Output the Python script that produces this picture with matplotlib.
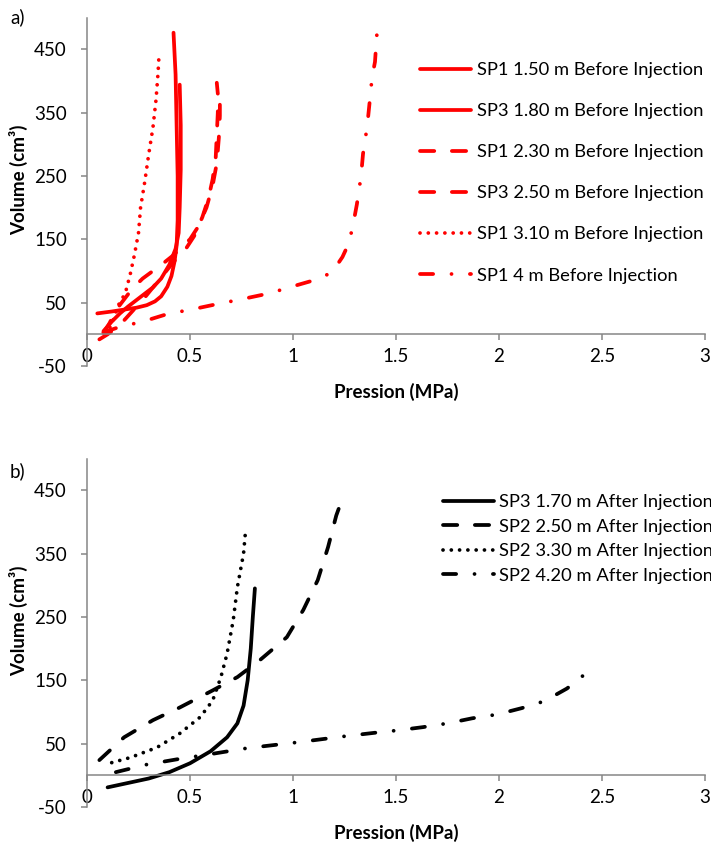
import matplotlib
matplotlib.use('Agg')
import matplotlib.pyplot as plt

plt.rcParams['font.family'] = ['Lato', 'DejaVu Sans']
plt.rcParams['axes.unicode_minus'] = False

# a) before injection -- pressure (MPa) / volume (cm3)
sp1_150_p = [0.05, 0.12, 0.18, 0.24, 0.29, 0.33, 0.36, 0.39, 0.41, 0.425, 0.435, 0.44, 0.44, 0.435, 0.43, 0.42]
sp1_150_v = [33, 36, 39, 42, 46, 52, 60, 75, 92, 115, 140, 180, 250, 330, 410, 476]
sp3_180_p = [0.08, 0.12, 0.16, 0.20, 0.24, 0.28, 0.32, 0.36, 0.40, 0.43, 0.445, 0.45, 0.455, 0.455, 0.45]
sp3_180_v = [5, 20, 33, 44, 54, 64, 74, 88, 110, 135, 160, 200, 260, 330, 394]
sp1_230_p = [0.06, 0.10, 0.14, 0.18, 0.23, 0.28, 0.33, 0.38, 0.43, 0.48, 0.52, 0.56, 0.59, 0.61, 0.625, 0.63, 0.635, 0.635, 0.63]
sp1_230_v = [-8, 0, 10, 22, 40, 58, 78, 98, 118, 135, 155, 185, 215, 245, 280, 315, 350, 380, 397]
sp3_250_p = [0.08, 0.11, 0.14, 0.18, 0.22, 0.27, 0.32, 0.37, 0.42, 0.46, 0.50, 0.54, 0.58, 0.61, 0.63, 0.64, 0.645, 0.645]
sp3_250_v = [2, 18, 38, 55, 72, 88, 100, 112, 125, 138, 150, 170, 200, 235, 270, 310, 345, 375]
sp1_310_p = [0.09, 0.11, 0.13, 0.15, 0.17, 0.19, 0.21, 0.23, 0.25, 0.26, 0.28, 0.30, 0.32, 0.335, 0.345, 0.35]
sp1_310_v = [0, 10, 25, 45, 55, 70, 95, 125, 160, 200, 240, 285, 326, 370, 413, 443]
sp1_400_p = [0.08, 0.17, 0.26, 0.40, 0.49, 0.65, 0.73, 0.89, 0.97, 1.12, 1.19, 1.24, 1.27, 1.29, 1.31, 1.33,
             1.34, 1.36, 1.37, 1.384, 1.398, 1.41]
sp1_400_v = [3, 13, 19, 33, 38, 49, 54, 65, 73, 87, 98, 122, 143, 170, 205, 249, 285, 328, 360, 406, 430, 487]

# b) after injection
sp3_170_p = [0.10, 0.20, 0.30, 0.40, 0.50, 0.60, 0.68, 0.73, 0.76, 0.78, 0.795, 0.805, 0.815]
sp3_170_v = [-19, -12, -5, 5, 19, 38, 60, 82, 110, 150, 200, 250, 295]
sp2_250_p = [0.06, 0.18, 0.32, 0.45, 0.61, 0.73, 0.84, 0.97, 1.05, 1.12, 1.17, 1.21, 1.23]
sp2_250_v = [24, 60, 87, 107, 134, 155, 182, 218, 261, 308, 360, 410, 428]
sp2_330_p = [0.12, 0.21, 0.34, 0.45, 0.55, 0.61, 0.65, 0.68, 0.71, 0.73, 0.76, 0.77]
sp2_330_v = [20, 28, 44, 66, 92, 118, 155, 192, 245, 297, 350, 387]
sp2_420_p = [0.14, 0.29, 0.45, 0.61, 0.78, 1.02, 1.26, 1.42, 1.51, 1.63, 1.75, 1.87, 1.99, 2.11, 2.22, 2.33, 2.43]
sp2_420_v = [5, 17, 26, 34, 43, 52, 62, 68, 71, 76, 82, 90, 96, 106, 117, 137, 163]

x_ticks = [0, 0.5, 1, 1.5, 2, 2.5, 3]
x_tick_labels = ['0', '0.5', '1', '1.5', '2', '2.5', '3']
y_ticks = [-50, 50, 150, 250, 350, 450]

LW = 2.7
SOLID = '-'
DASH = (0, (3.8, 4.7))
DOT = (0, (0.01, 2.2))
DASHDOT = (0, (3.5, 4.9, 0.01, 4.9))
FS = 13.5
LEG_FS = 13.2
AXIS_GREY = '#868686'


def style_axes(ax):
    ax.set_xlim(0, 3)
    ax.set_ylim(-50, 500)
    ax.spines['top'].set_visible(False)
    ax.spines['right'].set_visible(False)
    ax.spines['bottom'].set_position(('data', 0))
    for s in ('left', 'bottom'):
        ax.spines[s].set_color(AXIS_GREY)
        ax.spines[s].set_linewidth(1.1)
    ax.set_xticks(x_ticks)
    ax.set_xticklabels(x_tick_labels)
    ax.set_yticks(y_ticks)
    ax.tick_params(axis='both', colors=AXIS_GREY, labelcolor='black', labelsize=FS,
                   length=4.5, width=1.1, direction='out')
    ax.tick_params(axis='x', pad=5)
    ax.tick_params(axis='y', pad=10)
    ax.set_xlabel('Pression (MPa)', fontsize=FS, fontweight='bold')
    ax.set_ylabel('Volume (cm³)', fontsize=FS, fontweight='bold')
    ax.xaxis.set_label_coords(0.5, -0.049)
    ax.yaxis.set_label_coords(-0.095, 0.535)
    ax.patch.set_visible(False)


def draw(ax, p, v, color, ls, label):
    ax.plot(p, v, color=color, lw=LW, linestyle=ls, label=label,
            solid_capstyle='round', dash_capstyle='round', solid_joinstyle='round')


fig = plt.figure(figsize=(7.11, 8.43), dpi=100)

ax1 = fig.add_axes([87 / 711, 1 - 366 / 843, 618 / 711, 348.5 / 843])
red = '#ff0000'
draw(ax1, sp1_150_p, sp1_150_v, red, SOLID, 'SP1 1.50 m Before Injection')
draw(ax1, sp3_180_p, sp3_180_v, red, SOLID, 'SP3 1.80 m Before Injection')
draw(ax1, sp1_230_p, sp1_230_v, red, DASH, 'SP1 2.30 m Before Injection')
draw(ax1, sp3_250_p, sp3_250_v, red, DASH, 'SP3 2.50 m Before Injection')
draw(ax1, sp1_310_p, sp1_310_v, red, DOT, 'SP1 3.10 m Before Injection')
draw(ax1, sp1_400_p, sp1_400_v, red, DASHDOT, 'SP1 4 m Before Injection')
style_axes(ax1)
ax1.legend(loc='upper left', bbox_to_anchor=(420 / 711, 1 - 62 / 843), bbox_transform=fig.transFigure,
           frameon=False, fontsize=LEG_FS, handlelength=2.8, handletextpad=0.3,
           labelspacing=1.37, borderpad=0, borderaxespad=0)

ax2 = fig.add_axes([87 / 711, 1 - 807 / 843, 618 / 711, 348.5 / 843])
draw(ax2, sp3_170_p, sp3_170_v, 'black', SOLID, 'SP3 1.70 m After Injection')
draw(ax2, sp2_250_p, sp2_250_v, 'black', DASH, 'SP2 2.50 m After Injection')
draw(ax2, sp2_330_p, sp2_330_v, 'black', DOT, 'SP2 3.30 m After Injection')
draw(ax2, sp2_420_p, sp2_420_v, 'black', DASHDOT, 'SP2 4.20 m After Injection')
style_axes(ax2)
ax2.legend(loc='upper left', bbox_to_anchor=(443 / 711, 1 - 494 / 843), bbox_transform=fig.transFigure,
           frameon=False, fontsize=LEG_FS, handlelength=2.8, handletextpad=0.25,
           labelspacing=0.47, borderpad=0, borderaxespad=0)

fig.text(10 / 711, 1 - 8 / 843, 'a)', fontsize=FS, va='top', ha='left')
fig.text(10 / 711, 1 - 462 / 843, 'b)', fontsize=FS, va='top', ha='left')

fig.savefig('out.png', dpi=100)
